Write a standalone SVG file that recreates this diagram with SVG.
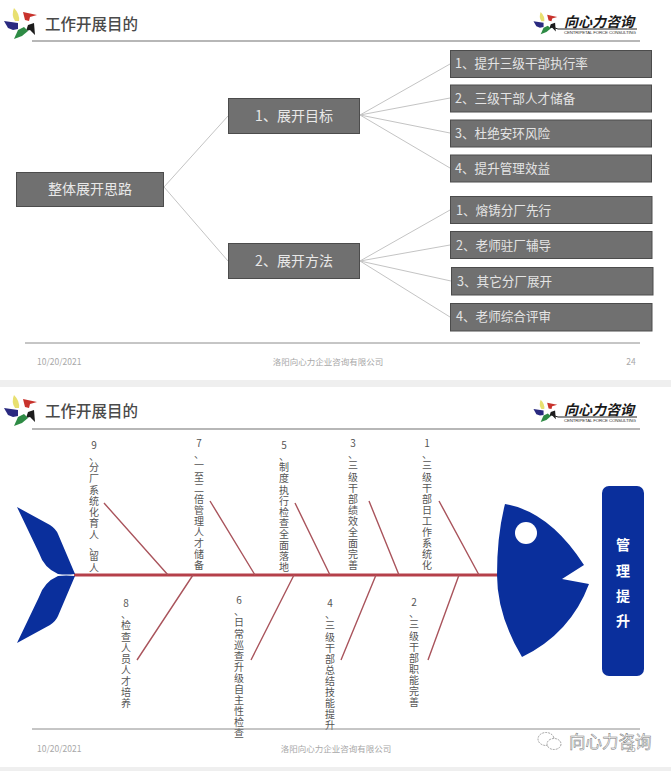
<svg xmlns="http://www.w3.org/2000/svg" width="671" height="771" viewBox="0 0 671 771">
<style>
text{font-family:"Noto Sans CJK SC","Liberation Sans",sans-serif}
.title{font-size:15.5px;font-weight:500;fill:#4a4a4a}
.foot{font-size:8.5px;fill:#a8a8a8}
.rule{stroke:#8c8c8c;stroke-width:1;fill:none}
.hrule{stroke:#707070;stroke-width:1.2;fill:none}
.box{fill:#707070;stroke:#4c4c4c;stroke-width:1}
.bt{font-size:12.6px;fill:#e4e4e4}
.bm{font-size:14px;fill:#e8e8e8;text-anchor:middle}
.link{stroke:#c4c4c4;stroke-width:1;fill:none}
.bone{stroke:#a9545c;stroke-width:1.4;fill:none}
.spine{stroke:#b5404a;stroke-width:3.2;fill:none}
.fish{fill:#0a2f9c}
.v{font-size:10px;fill:#555;text-anchor:middle}
.brand{font-size:14px;font-weight:700;font-style:italic;fill:#1a1a1a}
.tiny{font-size:4.4px;fill:#333;font-family:"Liberation Sans",sans-serif}
.head{font-size:14px;font-weight:700;fill:#fff;text-anchor:middle}
</style>
<defs>
<g id="logo">
<path d="M14 8Q20 14 19 21L15 21Q11 15 14 8Z" fill="#e8e070"/>
<path d="M23 12L37 15L30 17L29 21L25 20Z" fill="#c8322c"/>
<path d="M34 23L35 35L30 30L26 31L28 25Z" fill="#1c1c1c"/>
<path d="M14 39L18 30L24 27L28 31L22 36Z" fill="#2e8b45"/>
<path d="M4 21L18 23L18 29L13 30L8 28Z" fill="#2a2a80"/>
</g>
</defs>
<rect width="671" height="771" fill="#ffffff"/>
<rect x="0" y="380" width="671" height="7" fill="#efefef"/>
<rect x="0" y="767" width="671" height="4" fill="#efefef"/>

<g id="slide1-header">
<use href="#logo"/>
<text class="title" x="45" y="30">工作开展目的</text>
<path class="hrule" d="M32 41H640"/>
<use href="#logo" transform="translate(530.6 6.2) scale(.72)"/>
<text class="brand" x="564" y="27">向心力咨询</text>
<path d="M552 27L558 29H637" stroke="#222" stroke-width="1" fill="none"/>
<text class="tiny" x="564" y="33.5" textLength="72">CENTRIPETAL FORCE CONSULTING</text>
</g>

<g id="connectors-tree">
<path class="link" d="M164 187L228 116M164 187L228 261"/>
<path class="link" d="M360 115L450 64M360 115L450 98M360 115L450 133M360 115L450 168"/>
<path class="link" d="M360 261L450 210M360 261L450 245M360 261L451 281M360 261L450 317"/>
</g>

<g id="root"><rect class="box" x="16.500" y="172.500" width="147" height="34"/><text class="bm" x="90" y="194">整体展开思路</text></g>
<g id="goal"><rect class="box" x="228.500" y="98.500" width="131" height="35"/><text class="bm" x="294" y="121">1、展开目标</text></g>
<g id="method"><rect class="box" x="228.500" y="243.500" width="131" height="35"/><text class="bm" x="294" y="266">2、展开方法</text></g>
<g id="g1"><rect class="box" x="450.500" y="50.500" width="201" height="27"/><text class="bt" x="455" y="68">1、提升三级干部执行率</text></g>
<g id="g2"><rect class="box" x="450.500" y="85" width="201" height="27"/><text class="bt" x="455" y="103">2、三级干部人才储备</text></g>
<g id="g3"><rect class="box" x="450.500" y="120" width="201" height="27"/><text class="bt" x="455" y="138">3、杜绝安环风险</text></g>
<g id="g4"><rect class="box" x="450.500" y="155" width="201" height="27"/><text class="bt" x="455" y="173">4、提升管理效益</text></g>
<g id="m1"><rect class="box" x="450.500" y="196.500" width="201.500" height="27"/><text class="bt" x="456" y="214.500">1、熔铸分厂先行</text></g>
<g id="m2"><rect class="box" x="450.500" y="231.500" width="201.500" height="27"/><text class="bt" x="456" y="250">2、老师驻厂辅导</text></g>
<g id="m3"><rect class="box" x="451.500" y="267.500" width="201.500" height="27.500"/><text class="bt" x="457" y="286">3、其它分厂展开</text></g>
<g id="m4"><rect class="box" x="450.500" y="303.500" width="201.500" height="27.500"/><text class="bt" x="456" y="321">4、老师综合评审</text></g>

<g id="slide1-footer">
<path class="rule" d="M25 343H640"/>
<text class="foot" x="37" y="365">10/20/2021</text>
<text class="foot" x="328" y="365" text-anchor="middle">洛阳向心力企业咨询有限公司</text>
<text class="foot" x="631" y="365" text-anchor="middle">24</text>
</g>

<g id="slide2-header">
<use href="#logo" transform="translate(0 387)"/>
<text class="title" x="45" y="417">工作开展目的</text>
<path class="hrule" d="M32 429H640"/>
<use href="#logo" transform="translate(530.6 394) scale(.72)"/>
<text class="brand" x="564" y="415">向心力咨询</text>
<path d="M552 415L558 417H637" stroke="#222" stroke-width="1" fill="none"/>
<text class="tiny" x="564" y="421.500" textLength="72">CENTRIPETAL FORCE CONSULTING</text>
</g>

<g id="connectors-fish">
<path class="spine" d="M74 575H499"/>
<path class="bone" d="M104 503L168 575M210 501L255 575M295 503L330 575M369 501L399 575M439 501L479 575"/>
<path class="bone" d="M193 575L137 660M294 575L251 660M376 575L341 660M459 575L428 660"/>
</g>

<g id="fish-tail"><path class="fish" d="M17 507L50 525Q56 529 58 534L75 574Q66 575 58 574Q44 568 39 553Z"/><path class="fish" d="M17 643L50 625Q56 621 58 616L75 576Q66 575 58 576Q44 582 39 597Z"/></g>
<g id="fish-head"><path class="fish" d="M505 504Q549.500 511.500 584 565L562 579L589 584Q570.500 633.500 522 657Q497 615 497 575Q497 535 505 504Z"/><circle cx="526" cy="533" r="11" fill="#fff"/></g>

<g id="cause-9"><text class="v"><tspan x="94" y="449">9</tspan><tspan x="94" y="460">、</tspan><tspan x="94" y="471">分</tspan><tspan x="94" y="482">厂</tspan><tspan x="94" y="493.500">系</tspan><tspan x="94" y="505">统</tspan><tspan x="94" y="515.500">化</tspan><tspan x="94" y="527">育</tspan><tspan x="94" y="538.500">人</tspan><tspan x="94" y="550">、</tspan><tspan x="94" y="560">留</tspan><tspan x="94" y="572">人</tspan></text></g>
<g id="cause-7"><text class="v"><tspan x="199" y="447">7</tspan><tspan x="199" y="458">、</tspan><tspan x="199" y="469">一</tspan><tspan x="199" y="480.500">至</tspan><tspan x="199" y="491.500">二</tspan><tspan x="199" y="502.500">倍</tspan><tspan x="199" y="513.500">管</tspan><tspan x="199" y="524.500">理</tspan><tspan x="199" y="535.500">人</tspan><tspan x="199" y="546.500">才</tspan><tspan x="199" y="558">储</tspan><tspan x="199" y="569">备</tspan></text></g>
<g id="cause-5"><text class="v"><tspan x="284" y="449">5</tspan><tspan x="284" y="460">、</tspan><tspan x="284" y="471">制</tspan><tspan x="284" y="482">度</tspan><tspan x="284" y="493.500">执</tspan><tspan x="284" y="504.500">行</tspan><tspan x="284" y="515.500">检</tspan><tspan x="284" y="526.500">查</tspan><tspan x="284" y="538">全</tspan><tspan x="284" y="549">面</tspan><tspan x="284" y="560">落</tspan><tspan x="284" y="571">地</tspan></text></g>
<g id="cause-3"><text class="v"><tspan x="353" y="447">3</tspan><tspan x="353" y="458">、</tspan><tspan x="353" y="469">三</tspan><tspan x="353" y="480.500">级</tspan><tspan x="353" y="491.500">干</tspan><tspan x="353" y="502.500">部</tspan><tspan x="353" y="513.500">绩</tspan><tspan x="353" y="524.500">效</tspan><tspan x="353" y="535.500">全</tspan><tspan x="353" y="546.500">面</tspan><tspan x="353" y="558">完</tspan><tspan x="353" y="569">善</tspan></text></g>
<g id="cause-1"><text class="v"><tspan x="427" y="447">1</tspan><tspan x="427" y="458">、</tspan><tspan x="427" y="469">三</tspan><tspan x="427" y="480.500">级</tspan><tspan x="427" y="491.500">干</tspan><tspan x="427" y="502.500">部</tspan><tspan x="427" y="513.500">日</tspan><tspan x="427" y="524.500">工</tspan><tspan x="427" y="535.500">作</tspan><tspan x="427" y="546.500">系</tspan><tspan x="427" y="558">统</tspan><tspan x="427" y="569">化</tspan></text></g>
<g id="cause-8"><text class="v"><tspan x="126" y="607">8</tspan><tspan x="126" y="618">、</tspan><tspan x="126" y="629">检</tspan><tspan x="126" y="640.500">查</tspan><tspan x="126" y="651.500">人</tspan><tspan x="126" y="662.500">员</tspan><tspan x="126" y="673.500">人</tspan><tspan x="126" y="684.500">才</tspan><tspan x="126" y="695.500">培</tspan><tspan x="126" y="706.500">养</tspan></text></g>
<g id="cause-6"><text class="v"><tspan x="239" y="604">6</tspan><tspan x="239" y="615">、</tspan><tspan x="239" y="626">日</tspan><tspan x="239" y="637.500">常</tspan><tspan x="239" y="648.500">巡</tspan><tspan x="239" y="659.500">查</tspan><tspan x="239" y="670.500">升</tspan><tspan x="239" y="681.500">级</tspan><tspan x="239" y="692.500">自</tspan><tspan x="239" y="703.500">主</tspan><tspan x="239" y="715">性</tspan><tspan x="239" y="726">检</tspan><tspan x="239" y="737">查</tspan></text></g>
<g id="cause-4"><text class="v"><tspan x="330" y="607">4</tspan><tspan x="330" y="618">、</tspan><tspan x="330" y="629">三</tspan><tspan x="330" y="640.500">级</tspan><tspan x="330" y="651.500">干</tspan><tspan x="330" y="662.500">部</tspan><tspan x="330" y="673.500">总</tspan><tspan x="330" y="684.500">结</tspan><tspan x="330" y="695.500">技</tspan><tspan x="330" y="706.500">能</tspan><tspan x="330" y="718">提</tspan><tspan x="330" y="729">升</tspan></text></g>
<g id="cause-2"><text class="v"><tspan x="414" y="606">2</tspan><tspan x="414" y="617">、</tspan><tspan x="414" y="628">三</tspan><tspan x="414" y="639.500">级</tspan><tspan x="414" y="650.500">干</tspan><tspan x="414" y="661.500">部</tspan><tspan x="414" y="672.500">职</tspan><tspan x="414" y="683.500">能</tspan><tspan x="414" y="694.500">完</tspan><tspan x="414" y="705.500">善</tspan></text></g>

<g id="result"><rect class="fish" x="602" y="486" width="42" height="190" rx="7"/><text class="head"><tspan x="623" y="550">管</tspan><tspan x="623" y="576">理</tspan><tspan x="623" y="601">提</tspan><tspan x="623" y="626">升</tspan></text></g>

<g id="slide2-footer">
<path class="rule" d="M32 729H640"/>
<text class="foot" x="37" y="752">10/20/2021</text>
<text class="foot" x="336" y="752" text-anchor="middle">洛阳向心力企业咨询有限公司</text>
<text class="foot" x="631" y="752" text-anchor="middle">25</text>
</g>

<g id="watermark">
<ellipse cx="546" cy="739" rx="8" ry="6.500" fill="#fff" stroke="#8a8a8a" stroke-width=".8" stroke-dasharray="2 1"/>
<ellipse cx="554" cy="744" rx="7" ry="5.500" fill="#fff" stroke="#8a8a8a" stroke-width=".8" stroke-dasharray="2 1"/>
<text x="569" y="748" font-size="16.500" fill="#fff" stroke="#777" stroke-width=".5">向心力咨询</text>
</g>
</svg>
